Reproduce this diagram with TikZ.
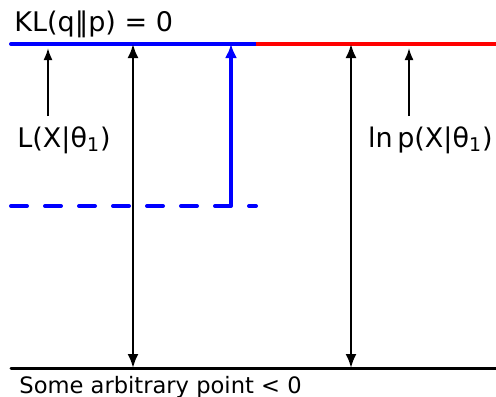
\documentclass[tikz,border=0pt]{standalone}
\usepackage{fontspec}
\setmainfont{DejaVu Sans}
\usetikzlibrary{arrows.meta,positioning}

\begin{document}
\begin{tikzpicture}[x=0.5pt, y=-0.5pt, >={Latex[length=7pt,width=5.5pt]}, every node/.style={inner sep=0pt},
    level/.style={line width=2pt},
    gap/.style={<->, line width=1.2pt},
    pointer/.style={-{Latex[length=6pt,width=4.5pt]}, line width=1pt},
    tag/.style={font=\fontsize{13.5}{16}\selectfont}]
    \useasboundingbox (0,0) rectangle (496,396);

    % the levels
    \coordinate (topL) at (11,44);
    \coordinate (topM) at (256,44);
    \coordinate (topR) at (496,44);
    \coordinate (botL) at (11,368);
    \coordinate (botR) at (496,368);
    \coordinate (lowL) at (11,206);
    \coordinate (lowR) at (256,206);

    \draw[level, blue, line cap=round] (topL) -- (topM);
    \draw[level, red] (topM) -- (topR);
    \draw[line width=1.5pt, line cap=round] (botL) -- (botR);
    \draw[level, blue, line cap=round, dash pattern=on 8pt off 9pt] (lowL) -- (lowR);

    % the gaps
    \coordinate (gapAtop) at (133,44);
    \coordinate (gapAbot) at (133,368);
    \coordinate (gapBtop) at (351,44);
    \coordinate (gapBbot) at (351,368);
    \coordinate (stepTop) at (231,44);
    \coordinate (stepBot) at (231,206);

    \draw[gap] (gapAbot) -- (gapAtop);
    \draw[gap] (gapBbot) -- (gapBtop);
    \draw[-{Latex[length=7pt,width=6pt]}, blue, line width=1.6pt] (stepBot) -- (stepTop);

    % the labels
    \node[tag, anchor=base west] (KL) at (14,32) {KL(q‖p) = 0};
    \node[tag, anchor=base west] (lower) at (17,147) {L(X|θ\textsubscript{1})};
    \node[tag, anchor=base east] (logp) at (493,147) {ln\,p(X|θ\textsubscript{1})};
    \node[font=\fontsize{11.3}{13}\selectfont, anchor=base west] (arb) at (19,393) {Some arbitrary point < 0};

    \coordinate (lowerTail) at (48,116);
    \coordinate (lowerTip) at (48,48);
    \coordinate (logpTail) at (409,116);
    \coordinate (logpTip) at (409,48);
    \draw[pointer] (lowerTail) -- (lowerTip);
    \draw[pointer] (logpTail) -- (logpTip);
\end{tikzpicture}
\end{document}
